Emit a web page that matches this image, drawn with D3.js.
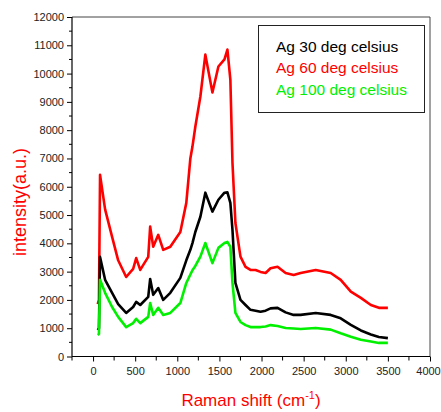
<!DOCTYPE html>
<html>
<head>
<meta charset="utf-8">
<style>
  body { margin: 0; background: #fff; font-family: Arial, "Liberation Sans", sans-serif; }
  svg { display: block; }
</style>
<script src="https://cdn.jsdelivr.net/npm/d3@7"></script>
</head>
<body>
<svg id="chart" width="441" height="412"></svg>
<script>
// Raman shift positions (cm-1)
const shift = [55, 70, 83, 143, 226, 298, 393, 476, 512, 560, 655, 678, 714, 774, 833, 917,
  1036, 1107, 1155, 1180, 1214, 1274, 1333, 1417, 1488, 1560, 1595, 1630, 1655, 1690, 1750,
  1810, 1869, 1929, 1988, 2048, 2107, 2190, 2286, 2381, 2464, 2643, 2821, 2940, 3060, 3179,
  3298, 3393, 3500];

// intensity (a.u.) for each sample
const ag30 = [940, 1000, 3520, 2710, 2250, 1850, 1540, 1750, 1930, 1820, 2110, 2740, 2180, 2420, 2000, 2250,
  2780, 3400, 3770, 4010, 4400, 4940, 5790, 5120, 5540, 5790, 5800, 5430, 4480, 2600, 2000,
  1820, 1650, 1620, 1580, 1620, 1700, 1720, 1560, 1470, 1470, 1540, 1470, 1350, 1120, 920,
  780, 690, 650];
const ag60 = [1850, 2000, 6420, 5200, 4230, 3400, 2810, 3100, 3480, 3060, 3520, 4590, 3880, 4300, 3770, 3880,
  4400, 5430, 7000, 7420, 8120, 9190, 10670, 9330, 10250, 10500, 10850, 9790, 6850, 4720, 3530,
  3170, 3060, 3060, 2990, 2950, 3120, 3170, 2950, 2880, 2950, 3060, 2950, 2710, 2290, 2070,
  1820, 1720, 1720];
const ag100 = [760, 800, 2710, 2250, 1750, 1400, 1040, 1180, 1330, 1180, 1400, 1890, 1470, 1720, 1470, 1540,
  1890, 2600, 2900, 3050, 3200, 3530, 4010, 3300, 3840, 4010, 4050, 3880, 2600, 1540, 1220,
  1110, 1040, 1040, 1040, 1060, 1110, 1080, 1010, 990, 970, 1010, 950, 820, 700, 590,
  530, 480, 480];

const seriesNames = ["Ag 30 deg celsius", "Ag 60 deg celsius", "Ag 100 deg celsius"];
const seriesColors = ["#000000", "#ff0000", "#00f000"];
const xTicks = [0, 500, 1000, 1500, 2000, 2500, 3000, 3500, 4000];
const yTicks = [0, 1000, 2000, 3000, 4000, 5000, 6000, 7000, 8000, 9000, 10000, 11000, 12000];

const svg = d3.select("#chart");
const mLeft = 72, mRight = 430, mTop = 17, mBottom = 356.5;

const x = d3.scaleLinear().domain([-250, 4000]).range([mLeft, mRight]);
const y = d3.scaleLinear().domain([0, 12000]).range([mBottom, mTop]);

// frame top + right
svg.append("line").attr("x1", mLeft).attr("x2", mRight).attr("y1", mTop).attr("y2", mTop)
  .attr("stroke", "#444").attr("stroke-width", 1);
svg.append("line").attr("x1", mRight).attr("x2", mRight).attr("y1", mTop).attr("y2", mBottom)
  .attr("stroke", "#444").attr("stroke-width", 1);

// minor ticks
const xMinor = d3.range(-250, 4001, 250).filter(v => v % 500 !== 0);
const yMinor = d3.range(500, 12000, 1000);

const gx = svg.append("g").attr("transform", "translate(0," + mBottom + ")");
gx.call(d3.axisBottom(x).tickValues(xTicks).tickSize(5).tickPadding(6).tickFormat(d3.format("d")));
gx.append("g").selectAll("line").data(xMinor).enter().append("line")
  .attr("x1", d => x(d)).attr("x2", d => x(d)).attr("y1", 0).attr("y2", 4).attr("stroke", "#000");

const gy = svg.append("g").attr("transform", "translate(" + mLeft + ",0)");
gy.call(d3.axisLeft(y).tickValues(yTicks).tickSize(5).tickPadding(3).tickFormat(d3.format("d")));
gy.append("g").selectAll("line").data(yMinor).enter().append("line")
  .attr("x1", 0).attr("x2", -3).attr("y1", d => y(d)).attr("y2", d => y(d)).attr("stroke", "#000");

[gx, gy].forEach(g => {
  g.select(".domain").attr("stroke", "#000").attr("stroke-width", 1.2);
  g.selectAll(".tick line").attr("stroke", "#000");
  g.selectAll(".tick text").attr("font-size", "11px").attr("fill", "#222")
    .attr("font-family", "Arial, 'Liberation Sans', sans-serif");
});
gy.select(".domain").attr("d", "M0," + mBottom + "V" + mTop);
gx.select(".domain").attr("d", "M" + mLeft + ",0H" + mRight);
// last label sits at the window edge, pull it in a touch so it stays whole
gx.selectAll(".tick text").filter(d => d === 4000).attr("dx", -2);

// curves
const line = d3.line().x((d, i) => x(shift[i])).y(d => y(d));
[[ag60, seriesColors[1]], [ag30, seriesColors[0]], [ag100, seriesColors[2]]].forEach(([s, col]) => {
  svg.append("path").datum(s).attr("d", line)
    .attr("fill", "none").attr("stroke", col).attr("stroke-width", 2.6)
    .attr("stroke-linejoin", "round");
});

// legend
svg.append("rect").attr("x", 258.5).attr("y", 25.5).attr("width", 166).attr("height", 87)
  .attr("fill", "#fff").attr("stroke", "#222").attr("stroke-width", 1);
svg.selectAll(".leg").data(seriesNames).enter().append("text")
  .attr("class", "leg")
  .attr("x", 276).attr("y", (d, i) => 51.5 + i * 21.7)
  .attr("font-size", "15.5px").attr("fill", (d, i) => seriesColors[i])
  .text(d => d);

// axis titles
svg.append("text").attr("transform", "translate(26,202) rotate(-90)")
  .attr("text-anchor", "middle").attr("font-size", "18px").attr("fill", "#ff0000")
  .text("intensity(a.u.)");

const xt = svg.append("text").attr("x", 251).attr("y", 406)
  .attr("text-anchor", "middle").attr("font-size", "17px").attr("fill", "#ff0000");
xt.append("tspan").text("Raman shift (cm");
xt.append("tspan").attr("dy", -7).attr("font-size", "11px").text("-1");
xt.append("tspan").attr("dy", 7).text(")");
</script>
</body>
</html>
